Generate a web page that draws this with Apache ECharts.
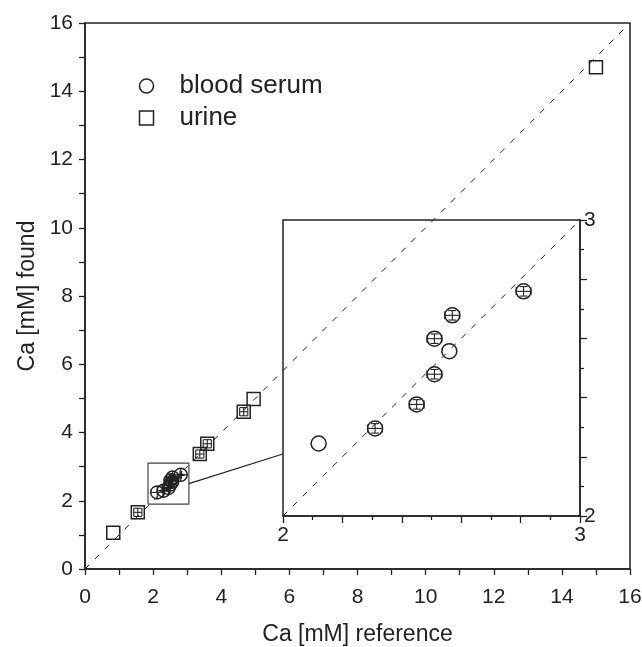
<!DOCTYPE html>
<html>
<head>
<meta charset="utf-8">
<script src="https://cdn.jsdelivr.net/npm/echarts@6/dist/echarts.min.js"></script>
<style>
  html, body { margin: 0; padding: 0; background: #fff; }
  #chart { width: 642px; height: 647px; }
</style>
</head>
<body>
<div id="chart"></div>
<script>
// blood serum: reference / found / error bars (mM)
const serumRef   = [2.12, 2.31, 2.45, 2.51, 2.56, 2.51, 2.57, 2.81];
const serumFound = [2.245, 2.296, 2.377, 2.479, 2.557, 2.599, 2.678, 2.759];
const serumErrX  = [0, 0.025, 0.025, 0.025, 0, 0.025, 0.025, 0.025];
const serumErrY  = [0, 0.016, 0.016, 0.016, 0, 0.016, 0.016, 0.016];
// urine
const urineRef   = [0.83, 1.55, 3.37, 3.59, 4.66, 4.95, 15.0];
const urineFound = [1.06, 1.66, 3.37, 3.67, 4.61, 4.98, 14.70];
const urineErrX  = [0, 0.12, 0.12, 0.12, 0.12, 0, 0];
const urineErrY  = [0, 0.12, 0.12, 0.12, 0.12, 0, 0];
// zoom rectangle and connector (main axes)
const zoomBox   = [[1.85, 1.9], [3.05, 1.9], [3.05, 3.1], [1.85, 3.1], [1.85, 1.9]];
const connector = [[3.05, 2.5], [5.81, 3.37]];
const mainTicks  = [0, 2, 4, 6, 8, 10, 12, 14, 16];
const insetTicks = [2, 3];

const ink = '#222';
const font = 'Liberation Sans, Arial, sans-serif';

function pts(xs, ys, exs, eys) {
  return xs.map((x, i) => [x, ys[i], exs[i], eys[i]]);
}

// marker with error bars
function makeRender(shape, size, cross) {
  return function (params, api) {
    const x = api.value(0), y = api.value(1);
    const ex = api.value(2), ey = api.value(3);
    const p = api.coord([x, y]);
    const dx = api.coord([x + ex, y])[0] - p[0];
    const dy = p[1] - api.coord([x, y + ey])[1];
    const r = size / 2;
    const st = { fill: 'none', stroke: ink, lineWidth: 1.5 };
    const kids = [];
    if (shape === 'circle') {
      kids.push({ type: 'circle', shape: { cx: p[0], cy: p[1], r: r }, style: st });
    } else {
      kids.push({ type: 'rect', shape: { x: p[0] - r, y: p[1] - r, width: size, height: size }, style: st });
    }
    const ln = (x1, y1, x2, y2) => ({ type: 'line', shape: { x1, y1, x2, y2 }, style: { stroke: ink, lineWidth: 1.1 } });
    const cap = 4;
    if (cross) {
      kids.push(ln(p[0] - r, p[1], p[0] + r, p[1]));
      kids.push(ln(p[0], p[1] - r, p[0], p[1] + r));
    }
    if (dx > 0.5) {
      kids.push(ln(p[0] - dx, p[1], p[0] + dx, p[1]));
      kids.push(ln(p[0] - dx, p[1] - cap, p[0] - dx, p[1] + cap));
      kids.push(ln(p[0] + dx, p[1] - cap, p[0] + dx, p[1] + cap));
    }
    if (dy > 0.5) {
      kids.push(ln(p[0], p[1] - dy, p[0], p[1] + dy));
      kids.push(ln(p[0] - cap, p[1] - dy, p[0] + cap, p[1] - dy));
      kids.push(ln(p[0] - cap, p[1] + dy, p[0] + cap, p[1] + dy));
    }
    return { type: 'group', children: kids };
  };
}

const chart = echarts.init(document.getElementById('chart'));

const option = {
  animation: false,
  textStyle: { fontFamily: font, color: ink },
  legend: {
    orient: 'vertical',
    left: 137,
    top: 73,
    padding: 0,
    itemWidth: 14,
    itemHeight: 14,
    itemGap: 6,
    selectedMode: false,
    textStyle: { fontSize: 26, color: ink, fontFamily: font, padding: [0, 0, 0, 21], lineHeight: 26 },
    data: [
      { name: 'blood serum', icon: 'circle', itemStyle: { color: 'none', borderColor: ink, borderWidth: 1.5 } },
      { name: 'urine', icon: 'rect', itemStyle: { color: 'none', borderColor: ink, borderWidth: 1.5 } }
    ]
  },
  grid: [
    { left: 85, top: 23, width: 545, height: 546, outerBoundsMode: 'none', show: true, borderColor: ink, borderWidth: 1.5, backgroundColor: 'transparent' },
    { left: 283, top: 220, width: 297, height: 296, outerBoundsMode: 'none', show: true, borderColor: ink, borderWidth: 1.5, backgroundColor: 'transparent' }
  ],
  xAxis: [
    {
      gridIndex: 0, type: 'value', min: 0, max: 16, interval: 2,
      name: 'Ca [mM] reference', nameLocation: 'middle', nameGap: 54,
      nameTextStyle: { fontSize: 23, color: ink, fontFamily: font },
      axisLine: { lineStyle: { color: ink, width: 1.5 } },
      axisTick: { inside: false, length: 6, lineStyle: { color: ink, width: 1.3 } },
      minorTick: { show: true, splitNumber: 2, length: 6, lineStyle: { color: ink, width: 1.3 } },
      axisLabel: { fontSize: 21, color: ink, margin: 18, formatter: v => mainTicks.includes(v) ? String(v) : '' },
      splitLine: { show: false }
    },
    {
      gridIndex: 1, type: 'value', min: 2, max: 3, interval: 0.2,
      axisLine: { lineStyle: { color: ink, width: 1.5 } },
      axisTick: { inside: false, length: 7, lineStyle: { color: ink, width: 1.3 } },
      minorTick: { show: true, splitNumber: 2, length: 4, lineStyle: { color: ink, width: 1.3 } },
      axisLabel: { fontSize: 21, color: ink, margin: 9, formatter: v => insetTicks.some(t => Math.abs(t - v) < 1e-6) ? String(Math.round(v)) : '' },
      splitLine: { show: false }
    }
  ],
  yAxis: [
    {
      gridIndex: 0, type: 'value', min: 0, max: 16, interval: 2,
      name: 'Ca [mM] found', nameLocation: 'middle', nameGap: 43,
      nameTextStyle: { fontSize: 23, color: ink, fontFamily: font },
      axisLine: { lineStyle: { color: ink, width: 1.5 } },
      axisTick: { inside: false, length: 6, lineStyle: { color: ink, width: 1.3 } },
      minorTick: { show: true, splitNumber: 2, length: 6, lineStyle: { color: ink, width: 1.3 } },
      axisLabel: { fontSize: 21, color: ink, margin: 12, formatter: v => mainTicks.includes(v) ? String(v) : '' },
      splitLine: { show: false }
    },
    {
      gridIndex: 1, type: 'value', min: 2, max: 3, interval: 0.2, position: 'right',
      axisLine: { lineStyle: { color: ink, width: 1.5 } },
      axisTick: { inside: false, length: 7, lineStyle: { color: ink, width: 1.3 } },
      minorTick: { show: true, splitNumber: 2, length: 4, lineStyle: { color: ink, width: 1.3 } },
      axisLabel: { fontSize: 21, color: ink, margin: 4, formatter: v => insetTicks.some(t => Math.abs(t - v) < 1e-6) ? String(Math.round(v)) : '' },
      splitLine: { show: false }
    }
  ],
  series: [
    {
      type: 'line', xAxisIndex: 0, yAxisIndex: 0, data: [[0, 0], [16, 16]],
      showSymbol: false, silent: true,
      lineStyle: { color: ink, width: 1, type: [6, 8] }
    },
    {
      type: 'line', xAxisIndex: 0, yAxisIndex: 0, data: zoomBox,
      showSymbol: false, silent: true,
      lineStyle: { color: '#444', width: 1.2 }
    },
    {
      type: 'line', xAxisIndex: 0, yAxisIndex: 0, data: connector,
      showSymbol: false, silent: true,
      lineStyle: { color: ink, width: 1.2 }
    },
    {
      name: 'blood serum', type: 'custom', xAxisIndex: 0, yAxisIndex: 0,
      data: pts(serumRef, serumFound, serumErrX, serumErrY),
      renderItem: makeRender('circle', 13, true)
    },
    {
      name: 'urine', type: 'custom', xAxisIndex: 0, yAxisIndex: 0,
      data: pts(urineRef, urineFound, urineErrX, urineErrY),
      renderItem: makeRender('rect', 13, false)
    },
    {
      type: 'line', xAxisIndex: 1, yAxisIndex: 1, data: [[2, 2], [3, 3]],
      showSymbol: false, silent: true,
      lineStyle: { color: ink, width: 1, type: [6, 8] }
    },
    {
      name: 'blood serum', type: 'custom', xAxisIndex: 1, yAxisIndex: 1,
      data: pts(serumRef, serumFound, serumErrX, serumErrY),
      renderItem: makeRender('circle', 15, false)
    }
  ]
};

chart.setOption(option);
</script>
</body>
</html>
